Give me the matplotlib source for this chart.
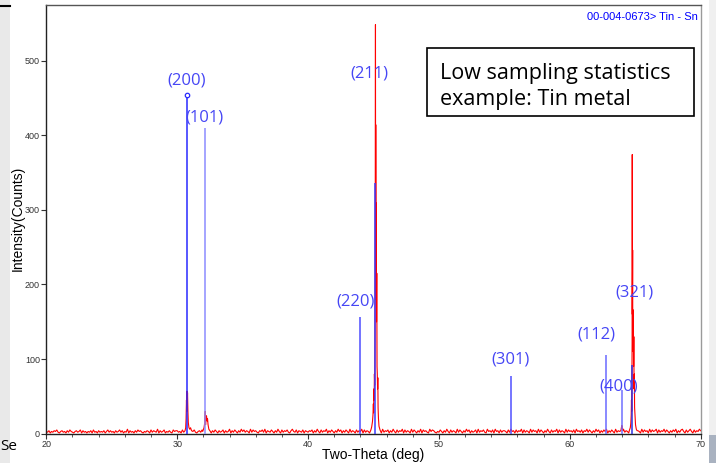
import numpy as np
import matplotlib
matplotlib.use("Agg")
import matplotlib.pyplot as plt
from matplotlib.patches import Rectangle

# ---------------------------------------------------------------- data
# Reference pattern 00-004-0673 (Tin - Sn): stick positions (2-theta) and counts
ref_hkl = ["(200)", "(101)", "(220)", "(211)", "(301)", "(112)", "(400)", "(321)"]
ref_2theta = [30.75, 32.10, 43.99, 45.08, 55.53, 62.77, 63.99, 64.77]
ref_counts = [454, 410, 156, 336, 77, 105, 59, 92]

# Measured scan: low background, 0.1 deg step from 20 to 70 deg
background_counts = (
    "32413243521342314253213423514231324152314232413524"
    "23142352413261423142534213243152432614235132421534"
    "42315243162435213425314263142531423514236142531426"
    "35243162534214352614325314263152435214632514325143"
    "24351426315243614253142635142531624315243615243162"
    "31425316243514263152436152431625314261534216354213"
    "25314263152431625314263514235162435216342516341524"
    "43152634152436152431625341625314263152436152431625"
    "34251634251436253142635142536142531624351624315243"
    "52431625341625346152436253142536142563152463152436"
    "4"
)

# Measured peak profiles (2-theta, counts)
peak_200_2theta = [30.60, 30.65, 30.68, 30.71, 30.73, 30.75, 30.77, 30.79, 30.82,
                   30.85, 30.90, 30.96, 31.02, 31.08]
peak_200_counts = [4, 8, 20, 45, 30, 57, 40, 55, 30, 15, 8, 6, 8, 5]

peak_101_2theta = [31.95, 32.05, 32.10, 32.14, 32.17, 32.20, 32.24, 32.28, 32.32,
                   32.36, 32.42, 32.50]
peak_101_counts = [3, 8, 14, 30, 12, 20, 24, 17, 20, 12, 6, 4]

peak_211_2theta = [44.80, 44.86, 44.92, 44.96, 44.99, 45.01, 45.03, 45.05, 45.07,
                   45.09, 45.11, 45.13, 45.15, 45.16, 45.17, 45.19, 45.21, 45.23,
                   45.25, 45.27, 45.29, 45.31, 45.33, 45.35, 45.38, 45.42, 45.50]
peak_211_counts = [5, 9, 16, 25, 40, 28, 60, 45, 80,
                   65, 120, 250, 548, 300, 414, 180, 309, 150,
                   215, 90, 80, 60, 75, 35, 20, 10, 5]

peak_400_2theta = [63.90, 63.95, 63.98, 64.02, 64.08]
peak_400_counts = [4, 9, 11, 7, 4]

peak_321_2theta = [64.56, 64.62, 64.66, 64.69, 64.71, 64.73, 64.74, 64.76, 64.77,
                   64.78, 64.80, 64.81, 64.83, 64.84, 64.86, 64.87, 64.89, 64.91,
                   64.93, 64.95, 64.98, 65.02, 65.08, 65.14]
peak_321_counts = [5, 8, 14, 25, 45, 30, 70, 120, 374,
                   160, 246, 120, 166, 110, 147, 90, 130, 60,
                   80, 35, 25, 12, 6, 4]

# ---------------------------------------------------------------- scan assembly
bg_y = np.array([int(c) for c in background_counts], dtype=float)
bg_x = np.linspace(20.0, 70.0, len(bg_y))

peaks = [
    (peak_200_2theta, peak_200_counts),
    (peak_101_2theta, peak_101_counts),
    (peak_211_2theta, peak_211_counts),
    (peak_400_2theta, peak_400_counts),
    (peak_321_2theta, peak_321_counts),
]
keep = np.ones_like(bg_x, dtype=bool)
for px, _ in peaks:
    keep &= ~((bg_x >= min(px)) & (bg_x <= max(px)))
scan_x = np.concatenate([bg_x[keep]] + [np.array(px) for px, _ in peaks])
scan_y = np.concatenate([bg_y[keep]] + [np.array(py, dtype=float) for _, py in peaks])
order = np.argsort(scan_x)
scan_x, scan_y = scan_x[order], scan_y[order]

# ---------------------------------------------------------------- figure
W, H = 716, 463
fig = plt.figure(figsize=(W / 100, H / 100), dpi=100)
fig.patch.set_facecolor("white")

# surrounding page strips
fig.patches.append(Rectangle((0, 0), 10 / W, 1, transform=fig.transFigure,
                             facecolor="#e9e9e9", edgecolor="none", zorder=0))
fig.patches.append(Rectangle((709 / W, 0), 7 / W, 1, transform=fig.transFigure,
                             facecolor="#f0f0f0", edgecolor="none", zorder=0))
fig.patches.append(Rectangle((709 / W, 0), 7 / W, 28 / H, transform=fig.transFigure,
                             facecolor="#a9b2c0", edgecolor="none", zorder=0))
fig.lines.append(plt.Line2D([0, 10 / W], [1 - 5.5 / H, 1 - 5.5 / H],
                            transform=fig.transFigure, color="black", lw=1.5))
fig.text(0.5 / W, 1 - 447 / H, "Se", fontsize=11, family="Open Sans",
         va="center", ha="left", color="black")

ax_l, ax_r = 46.3, 700.7
ax_t, ax_b = 5.3, 433.7
ax = fig.add_axes([ax_l / W, 1 - ax_b / H, (ax_r - ax_l) / W, (ax_b - ax_t) / H])
ax.set_xlim(20, 70)
ax.set_ylim(0, 574)

# measured scan
ax.plot(scan_x, scan_y, color="#ff0000", lw=0.8, zorder=2)

# reference sticks
stick_colors = ["#2a2aff", "#8c8cff", "#4d4dff", "#3a3aff",
                "#5050ff", "#6a6aff", "#7070ff", "#3030e0"]
ax.vlines(ref_2theta, 0, ref_counts, colors=stick_colors, lw=1.1, zorder=3)
ax.plot([ref_2theta[0]], [ref_counts[0]], marker="o", ms=3.2, mfc="white",
        mec="#2a2aff", mew=0.9, zorder=4, clip_on=False)

# hkl labels, offsets in pixels from each stick top
label_offsets = [(0, 14), (0, 10), (-5, 16), (-5, 109), (-1, 17), (-10, 21), (-3, 3), (2, 73)]
for hkl, x, y, (dx, dy) in zip(ref_hkl, ref_2theta, ref_counts, label_offsets):
    ax.annotate(hkl, (x, y), xytext=(dx, dy), textcoords="offset pixels",
                ha="center", va="center", fontsize=12, family="Open Sans",
                color="#4646f5", zorder=5)

# axes styling
for side, col in (("left", "#222222"), ("bottom", "#222222"),
                  ("top", "#555555"), ("right", "#9a9a9a")):
    ax.spines[side].set_color(col)
    ax.spines[side].set_linewidth(1.0)

ax.set_xticks(np.arange(20, 71, 10))
ax.set_xticks(np.arange(20, 71, 2), minor=True)
ax.set_yticks(np.arange(0, 501, 100))
ax.tick_params(axis="both", which="major", length=3.5, width=0.8, color="#333333",
               labelsize=6.5, labelcolor="#333333", pad=1, direction="out")
ax.tick_params(axis="x", which="minor", length=2.5, width=0.7, color="#555555")
for lab in ax.get_xticklabels() + ax.get_yticklabels():
    lab.set_family("Liberation Sans")

fig.text(373 / W, 1 - 455 / H, "Two-Theta (deg)", fontsize=10,
         family="Liberation Sans", ha="center", va="center", color="black")
fig.text(18 / W, 1 - 218 / H, "Intensity(Counts)", fontsize=10, rotation=90,
         family="Liberation Sans", ha="center", va="center", color="black")

ax.text(0.9959, 0.9727, "00-004-0673> Tin - Sn", transform=ax.transAxes,
        fontsize=8, family="Liberation Sans", color="#0000ff", ha="right", va="center")

# annotation box
ax.add_patch(Rectangle((0.5818, 0.7416), 0.9898 - 0.5818, 0.9003 - 0.7416,
                       transform=ax.transAxes, facecolor="white",
                       edgecolor="black", lw=1.2, zorder=6))
ax.text(0.6016, 0.8112, "Low sampling statistics\nexample: Tin metal",
        transform=ax.transAxes, fontsize=15.5, family="Open Sans",
        ha="left", va="center", linespacing=1.3, color="black", zorder=7)

fig.savefig("out.png", dpi=100)
